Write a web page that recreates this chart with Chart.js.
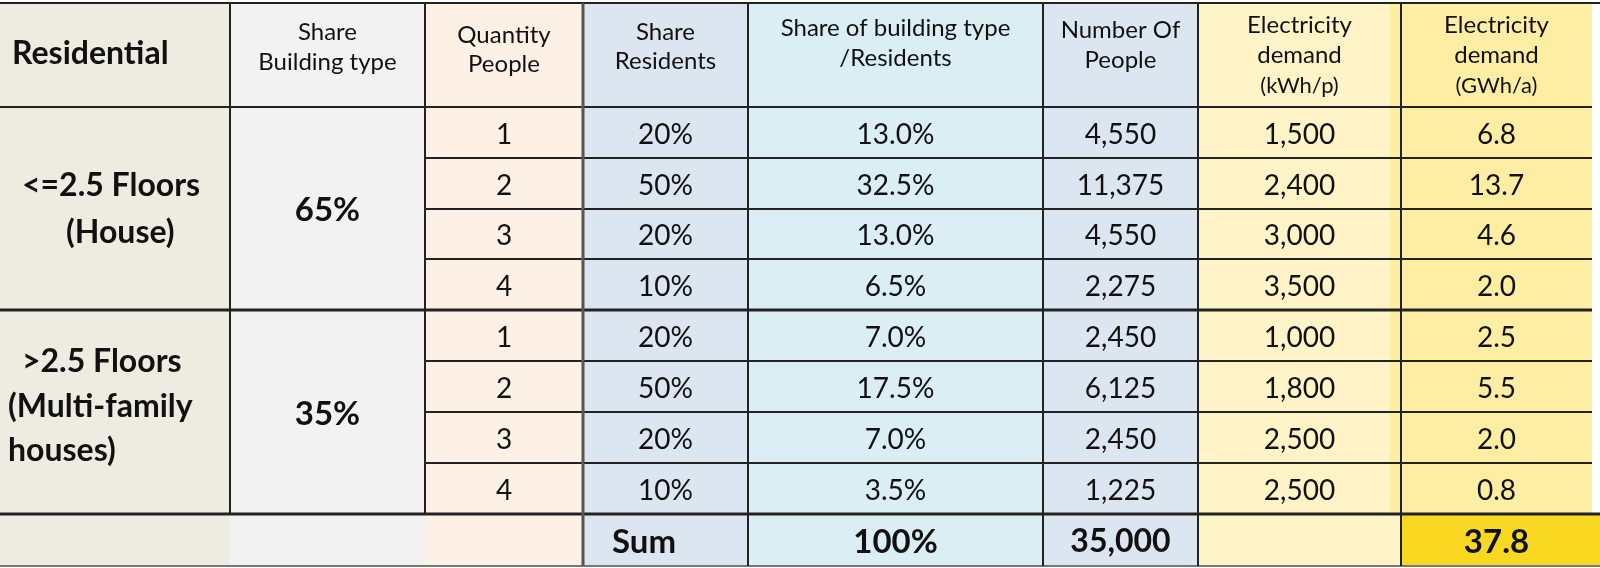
<!DOCTYPE html>
<html>
<head>
<meta charset="utf-8">
<script src="https://cdn.jsdelivr.net/npm/chart.js@4"></script>
<style>
  html, body { margin: 0; padding: 0; background: #fff; }
  #wrap { width: 1600px; height: 568px; position: relative; }
</style>
</head>
<body>
<div id="wrap"><canvas id="myChart"></canvas></div>
<script>
// Table data
const headers = [
  ['Residential'],
  ['Share', 'Building type'],
  ['Quantity', 'People'],
  ['Share', 'Residents'],
  ['Share of building type', '/Residents'],
  ['Number Of', 'People'],
  ['Electricity', 'demand', '(kWh/p)'],
  ['Electricity', 'demand', '(GWh/a)'],
]
const buildingTypes = [
  ['<=2.5 Floors', '(House)'],
  ['>2.5 Floors', '(Multi-family', 'houses)'],
]
const buildingShare = [65, 35]
const quantityPeople = [1, 2, 3, 4, 1, 2, 3, 4]
const shareResidents = [20, 50, 20, 10, 20, 50, 20, 10]
const shareTypeResidents = [13.0, 32.5, 13.0, 6.5, 7.0, 17.5, 7.0, 3.5]
const numberPeople = [4550, 11375, 4550, 2275, 2450, 6125, 2450, 1225]
const demandPerPerson = [1500, 2400, 3000, 3500, 1000, 1800, 2500, 2500]
const demandTotal = [6.8, 13.7, 4.6, 2.0, 2.5, 5.5, 2.0, 0.8]
const sumLabel = 'Sum'
const sumShare = 100
const sumPeople = 35000
const sumDemand = 37.8

// Layout (in scale units)
const colEdges = [0, 230, 425, 583, 748, 1043, 1198, 1401, 1592]
const rowEdges = [3, 107, 158, 209, 259, 310, 361, 412, 463, 514, 566]
const headerLineY = [[54], [32, 62], [35, 64], [32, 61], [28, 58], [30, 60], [25, 55, 86], [25, 55, 86]]
const groupLineX = [[22, 66], [22, 8, 8]]
const groupLineY = [[186, 233], [362, 407, 451]]
const colFill = ['#EEEBE0', '#F2F2F2', '#FDF0E5', '#DCE6F1', '#DAEEF3', '#DCE6F1', '#FEF4C8', '#FEEEA3']
const sumFill = '#F8D820'
const FONT = 'Lato, "Open Sans", sans-serif'

const fmt = n => n.toLocaleString('en-US')

const tablePlugin = {
  id: 'table',
  afterDraw(chart) {
    const { ctx, scales } = chart
    const px = v => scales.x.getPixelForValue(v)
    const py = v => scales.y.getPixelForValue(v)
    const rect = (x0, y0, x1, y1, color) => {
      ctx.fillStyle = color
      ctx.fillRect(px(x0), py(y0), px(x1) - px(x0), py(y1) - py(y0))
    }
    const line = (x0, y0, x1, y1, color, w) => {
      ctx.strokeStyle = color
      ctx.lineWidth = w
      ctx.beginPath()
      ctx.moveTo(px(x0), py(y0))
      ctx.lineTo(px(x1), py(y1))
      ctx.stroke()
    }
    const text = (s, x, y, font, align) => {
      ctx.font = font
      ctx.textAlign = align || 'center'
      ctx.textBaseline = 'middle'
      ctx.fillStyle = '#111'
      ctx.fillText(s, px(x), py(y))
    }
    const top = rowEdges[0]
    const bottom = rowEdges[rowEdges.length - 1]
    const sumTop = rowEdges[rowEdges.length - 2]

    ctx.save()
    // column fills
    colFill.forEach((c, i) => rect(colEdges[i], top, colEdges[i + 1], bottom, c))
    rect(1390, top, colEdges[7], sumTop, colFill[7])
    rect(colEdges[7], sumTop, 1600, bottom, sumFill)

    // horizontal lines
    line(0, top, 1600, top, '#222', 2)
    line(0, rowEdges[1], colEdges[8], rowEdges[1], '#222', 2)
    for (let r = 2; r < rowEdges.length - 2; r++) {
      if (r === 5) line(0, rowEdges[r], colEdges[8], rowEdges[r], '#222', 3)
      else line(colEdges[2], rowEdges[r], colEdges[8], rowEdges[r], '#222', 2)
    }
    line(0, sumTop, 1600, sumTop, '#222', 3)
    line(0, bottom, 1600, bottom, '#777', 2)

    // vertical lines
    line(colEdges[1], top, colEdges[1], sumTop, '#222', 2)
    line(colEdges[2], top, colEdges[2], sumTop, '#222', 2)
    line(colEdges[3], top, colEdges[3], bottom, '#555', 3)
    for (let c = 4; c < 8; c++) line(colEdges[c], top, colEdges[c], bottom, '#222', 2)

    // headers
    headers.forEach((lines, c) => {
      const cx = (colEdges[c] + colEdges[c + 1]) / 2
      lines.forEach((s, k) => {
        if (c === 0) text(s, 12, headerLineY[c][k], 'bold 32px ' + FONT, 'left')
        else if (k === 2) text(s, cx, headerLineY[c][k], '22px ' + FONT)
        else text(s, cx, headerLineY[c][k], '24px ' + FONT)
      })
    })

    // building type groups
    buildingTypes.forEach((lines, g) => {
      lines.forEach((s, k) => text(s, groupLineX[g][k], groupLineY[g][k], 'bold 32px ' + FONT, 'left'))
      const gy = (rowEdges[1 + g * 4] + rowEdges[5 + g * 4]) / 2 + 2
      text(buildingShare[g] + '%', (colEdges[1] + colEdges[2]) / 2, gy, 'bold 33px ' + FONT)
    })

    // body rows
    const cols = [
      quantityPeople.map(String),
      shareResidents.map(v => v + '%'),
      shareTypeResidents.map(v => v.toFixed(1) + '%'),
      numberPeople.map(fmt),
      demandPerPerson.map(fmt),
      demandTotal.map(v => v.toFixed(1)),
    ]
    cols.forEach((vals, j) => {
      const c = j + 2
      const cx = (colEdges[c] + colEdges[c + 1]) / 2
      vals.forEach((s, i) => {
        const cy = (rowEdges[i + 1] + rowEdges[i + 2]) / 2 + 2
        text(s, cx, cy, '28px ' + FONT)
      })
    })

    // sum row
    const sy = (sumTop + bottom) / 2 + 2
    text(sumLabel, 612, sy, 'bold 33px ' + FONT, 'left')
    text(sumShare + '%', (colEdges[4] + colEdges[5]) / 2, sy, 'bold 33px ' + FONT)
    text(fmt(sumPeople), (colEdges[5] + colEdges[6]) / 2, sy, 'bold 32px ' + FONT)
    text(sumDemand.toFixed(1), (colEdges[7] + colEdges[8]) / 2, sy, 'bold 33px ' + FONT)
    ctx.restore()
  },
}

const ctx = document.getElementById('myChart').getContext('2d')
const myChart = new Chart(ctx, {
  type: 'scatter',
  data: { datasets: [] },
  options: {
    responsive: true,
    maintainAspectRatio: false,
    animation: false,
    layout: { padding: 0 },
    plugins: { legend: { display: false }, tooltip: { enabled: false } },
    scales: {
      x: { type: 'linear', min: 0, max: 1600, display: false },
      y: { type: 'linear', min: 0, max: 568, reverse: true, display: false },
    },
  },
  plugins: [tablePlugin],
})
</script>
</body>
</html>
